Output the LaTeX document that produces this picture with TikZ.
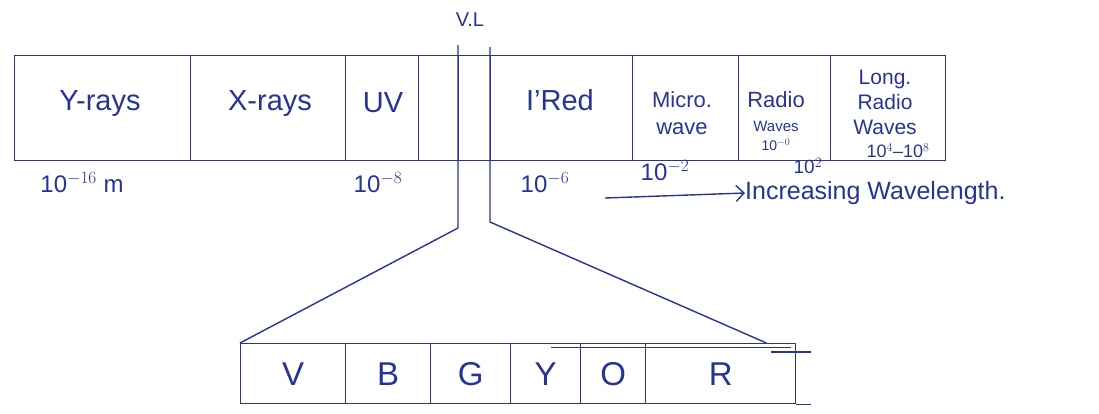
\documentclass[tikz,border=0pt]{standalone}
\usepackage{fontspec}
\setmainfont{Liberation Sans}
\usetikzlibrary{arrows.meta}
\definecolor{ink}{RGB}{38,52,150}
\begin{document}
\begin{tikzpicture}[x=1pt,y=-1pt,
  ink/.style={draw=ink,line width=1.4pt},
  band/.style={ink,rectangle,inner sep=0pt,anchor=north west,text=ink,font=\fontsize{29}{31}\selectfont,align=center},
  lbl/.style={text=ink,inner sep=0pt,font=\fontsize{24}{26}\selectfont},
  txt/.style={text=ink,inner sep=0pt,align=center}]
\useasboundingbox (0,0) rectangle (1099,413);
% top strip
\node[band,minimum width=176pt,minimum height=105pt] (gam) at (14,55) {};
\node[band,minimum width=155pt,minimum height=105pt] (xr) at (190,55) {};
\node[band,minimum width=73pt,minimum height=105pt] (uv) at (345,55) {};
\node[band,minimum width=40pt,minimum height=105pt] (gap) at (418,55) {};
\node[band,minimum width=32pt,minimum height=105pt] (vis) at (458,55) {};
\node[band,minimum width=142pt,minimum height=105pt] (ir) at (490,55) {};
\node[band,minimum width=106pt,minimum height=105pt] (mw) at (632,55) {};
\node[band,minimum width=92pt,minimum height=105pt] (rw) at (738,55) {};
\node[band,minimum width=115pt,minimum height=105pt] (lr) at (830,55) {};
\node[txt,font=\fontsize{29}{31}\selectfont] (tgam) at (100,104) {Y-rays};
\node[txt,font=\fontsize{29}{31}\selectfont] (txr) at (270,104) {X-rays};
\node[txt,font=\fontsize{29}{31}\selectfont] (tuv) at (383,103) {UV};
\node[txt,font=\fontsize{29}{31}\selectfont] (tir) at (560,100) {I'Red};
\node[txt,font=\fontsize{22}{27}\selectfont] (tmw) at (682,113) {Micro.\\wave};
\node[txt,font=\fontsize{22}{24}\selectfont] (trw) at (776,100) {Radio};
\node[txt,font=\fontsize{15}{15}\selectfont] (trw2) at (776,126) {Waves};
\node[txt,font=\fontsize{14}{15}\selectfont] (trw3) at (776,145) {10$^{-0}$};
\node[txt,font=\fontsize{21}{25}\selectfont] (tlr) at (885,102) {Long.\\Radio\\Waves};
\node[txt,font=\fontsize{18}{20}\selectfont] (tlr2) at (898,151) {10$^{4}$--10$^{8}$};
% visible light band
\coordinate (vlTL) at (458,45);
\coordinate (vlTR) at (490,47);
\coordinate (vlBL) at (458,228);
\coordinate (vlBR) at (490,222);
\node[txt,font=\fontsize{20}{22}\selectfont] (vl) at (470,20) {V.L};
% bottom box
\node[band,minimum width=105pt,minimum height=60pt,font=\fontsize{33}{35}\selectfont] (v) at (240,343) {V};
\node[band,minimum width=85pt,minimum height=60pt,font=\fontsize{33}{35}\selectfont] (b) at (345,343) {B};
\node[band,minimum width=80pt,minimum height=60pt,font=\fontsize{33}{35}\selectfont] (g) at (430,343) {G};
\node[band,minimum width=70pt,minimum height=60pt,font=\fontsize{33}{35}\selectfont] (y) at (510,343) {Y};
\node[band,minimum width=65pt,minimum height=60pt,font=\fontsize{33}{35}\selectfont] (o) at (580,343) {O};
\node[band,minimum width=150pt,minimum height=60pt,font=\fontsize{33}{35}\selectfont] (r) at (645,343) {R};
\draw[ink] (vlTL) -- (vlBL) -- (v.north west);
\draw[ink] (vlTR) -- (vlBR) -- ([xshift=-30pt]r.north east);
\draw[ink,line width=0.9pt] ([xshift=-245pt,yshift=-4pt]r.north east) -- ([xshift=-5pt,yshift=-4pt]r.north east);
\draw[ink] ([xshift=-25pt,yshift=-9pt]r.north east) -- ([xshift=15pt,yshift=-9pt]r.north east);
\draw[ink] (r.south east) -- ([xshift=15pt]r.south east);
% wavelength labels
\node[lbl] (w1) at (82,183) {10$^{-16}$ m};
\node[lbl] (w2) at (378,183) {10$^{-8}$};
\node[lbl] (w3) at (545,183) {10$^{-6}$};
\node[lbl] (w4) at (665,171) {10$^{-2}$};
\node[txt,font=\fontsize{19}{20}\selectfont] (w5) at (808,166) {10$^{2}$};
\node[lbl,anchor=west,font=\fontsize{25}{27}\selectfont] (inc) at (745,193) {Increasing Wavelength.};
\coordinate (arrS) at (605,198);
\draw[ink,-{Straight Barb[length=8pt,width=16pt]}] (arrS) -- (inc.west);
\end{tikzpicture}
\end{document}
